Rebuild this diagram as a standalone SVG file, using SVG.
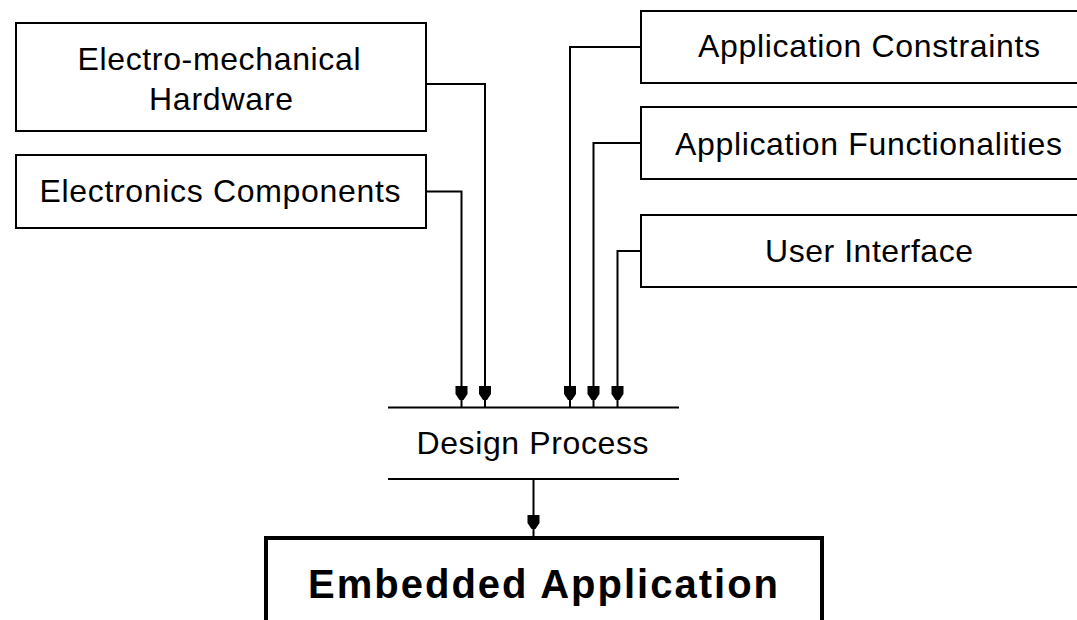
<svg xmlns="http://www.w3.org/2000/svg" width="1077" height="620" viewBox="0 0 1077 620">
  <style>
    .box { fill: #ffffff; stroke: #000000; stroke-width: 2; }
    .box-main { fill: #ffffff; stroke: #000000; stroke-width: 4; }
    .label { font-family: "Liberation Sans", Arial, sans-serif; font-size: 32px; fill: #000000; text-anchor: middle; }
    .title { font-family: "Liberation Sans", Arial, sans-serif; font-size: 40px; font-weight: bold; fill: #000000; text-anchor: middle; }
    .wire { fill: none; stroke: #000000; stroke-width: 2; }
    .rule { stroke: #000000; stroke-width: 2; }
  </style>
  <defs>
    <marker id="head" markerUnits="userSpaceOnUse" markerWidth="22" markerHeight="14" refX="21" refY="5" orient="auto" overflow="visible">
      <path d="M0,-1 L8,-1 L14,3 L14,7 L8,11 L0,11 Z" fill="#000000"/>
    </marker>
  </defs>
  <rect width="1077" height="620" fill="#ffffff"/>

  <!-- input nodes, left side -->
  <g id="node-electromechanical">
    <rect class="box" x="16" y="23" width="410" height="108"/>
    <text class="label" x="219" y="70" textLength="283" lengthAdjust="spacing">Electro-mechanical</text>
    <text class="label" x="221" y="110" textLength="144" lengthAdjust="spacing">Hardware</text>
  </g>
  <g id="node-electronics">
    <rect class="box" x="16" y="155" width="410" height="73"/>
    <text class="label" x="220" y="202" textLength="361" lengthAdjust="spacing">Electronics Components</text>
  </g>

  <!-- input nodes, right side (run past the right edge) -->
  <g id="node-constraints">
    <rect class="box" x="641" y="11" width="460" height="72"/>
    <text class="label" x="869" y="57" textLength="342" lengthAdjust="spacing">Application Constraints</text>
  </g>
  <g id="node-functionalities">
    <rect class="box" x="641" y="107" width="460" height="72"/>
    <text class="label" x="868.5" y="155" textLength="387" lengthAdjust="spacing">Application Functionalities</text>
  </g>
  <g id="node-ui">
    <rect class="box" x="641" y="215" width="460" height="72"/>
    <text class="label" x="869" y="262" textLength="208" lengthAdjust="spacing">User Interface</text>
  </g>

  <!-- design process stage -->
  <g id="node-design">
    <line class="rule" x1="388" y1="407.5" x2="679" y2="407.5"/>
    <line class="rule" x1="388" y1="479" x2="679" y2="479"/>
    <text class="label" x="532.5" y="454" textLength="232" lengthAdjust="spacing">Design Process</text>
  </g>

  <!-- result -->
  <g id="node-embedded">
    <rect class="box-main" x="266" y="538" width="556" height="110"/>
    <text class="title" x="543" y="598" textLength="470" lengthAdjust="spacing">Embedded Application</text>
  </g>

  <!-- connectors -->
  <g id="connectors">
    <path class="wire" d="M426,84 H485 V407" marker-end="url(#head)"/>
    <path class="wire" d="M426,191.5 H461.5 V407" marker-end="url(#head)"/>
    <path class="wire" d="M641,47 H570 V407" marker-end="url(#head)"/>
    <path class="wire" d="M641,143 H593.5 V407" marker-end="url(#head)"/>
    <path class="wire" d="M641,251 H617.5 V407" marker-end="url(#head)"/>
    <path class="wire" d="M533.5,479 V536" marker-end="url(#head)"/>
  </g>
</svg>
